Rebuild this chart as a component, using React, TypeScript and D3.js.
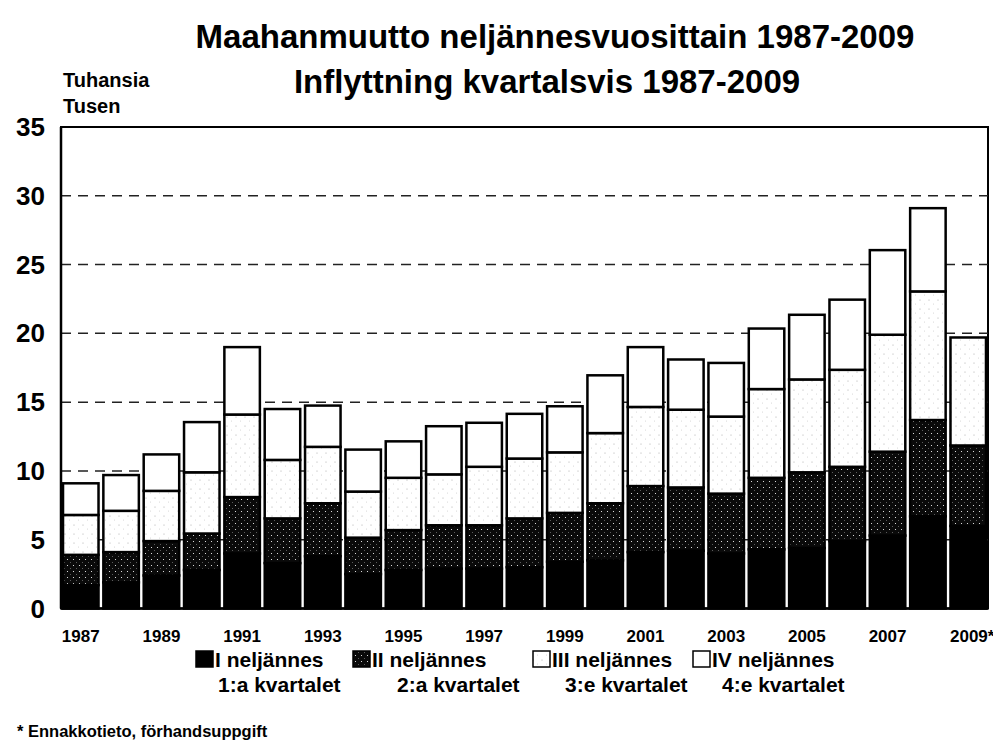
import React from 'react';
import * as d3 from 'd3';

const years = ['1987', '1988', '1989', '1990', '1991', '1992', '1993', '1994', '1995', '1996', '1997', '1998',
  '1999', '2000', '2001', '2002', '2003', '2004', '2005', '2006', '2007', '2008', '2009'];
const yearLabels = ['1987', '1989', '1991', '1993', '1995', '1997', '1999', '2001', '2003', '2005', '2007', '2009*'];

// thousands of immigrants per quarter
const q1 = [1.7, 1.9, 2.4, 2.8, 4.0, 3.3, 3.8, 2.5, 2.8, 2.9, 2.9, 3.0, 3.4, 3.5, 4.1, 4.2, 4.0, 4.3, 4.4, 4.9, 5.3, 6.7, 6.0];
const q2 = [2.2, 2.2, 2.5, 2.65, 4.1, 3.25, 3.85, 2.65, 2.9, 3.15, 3.15, 3.55, 3.55, 4.15, 4.8, 4.6, 4.35, 5.2, 5.5, 5.4, 6.1, 7.0, 5.85];
const q3 = [2.9, 3.0, 3.65, 4.45, 6.0, 4.25, 4.1, 3.35, 3.8, 3.7, 4.25, 4.35, 4.4, 5.1, 5.75, 5.65, 5.6, 6.45, 6.75, 7.05, 8.5, 9.35, 7.85];
const q4 = [2.3, 2.6, 2.65, 3.65, 4.9, 3.7, 3.0, 3.05, 2.65, 3.5, 3.2, 3.25, 3.35, 4.2, 4.35, 3.65, 3.9, 4.4, 4.7, 5.1, 6.15, 6.05, 0];

const yTicks = [0, 5, 10, 15, 20, 25, 30, 35];
const seriesKeys = ['q1', 'q2', 'q3', 'q4'];
const legendFi = ['I neljännes', 'II neljännes', 'III neljännes', 'IV neljännes'];
const legendSv = ['1:a kvartalet', '2:a kvartalet', '3:e kvartalet', '4:e kvartalet'];

const fills: Record<string, string> = { q1: '#000', q2: 'url(#patQ2)', q3: 'url(#patQ3)', q4: '#fff' };

const W = 993, H = 752;
const plot = { left: 61, right: 988, top: 127, bottom: 608.5 };
const font = '"Liberation Sans", Arial, sans-serif';

export default function App() {
  const rows = years.map((y, i) => ({ year: y, q1: q1[i], q2: q2[i], q3: q3[i], q4: q4[i] }));
  const stack = d3.stack<any>().keys(seriesKeys)(rows);

  const x = d3.scaleBand().domain(years).range([plot.left, plot.right]).paddingInner(0.12).paddingOuter(0.05);
  const y = d3.scaleLinear().domain([0, 35]).range([plot.bottom, plot.top]);

  const labelX = (lab: string) => (x(lab.replace('*', '')) as number) + x.bandwidth() / 2;

  const legendItems = [
    { key: 'q1', x: 196, tx: 218 },
    { key: 'q2', x: 353, tx: 397 },
    { key: 'q3', x: 533, tx: 565 },
    { key: 'q4', x: 693, tx: 722 },
  ];

  return (
    <div style={{ position: 'fixed', left: 0, top: 0 }}>
      <svg width={W} height={H} style={{ display: 'block', background: '#fff' }} fontFamily={font}>
        <defs>
          <pattern id="patQ2" width="6" height="6" patternUnits="userSpaceOnUse">
            <rect width="6" height="6" fill="#0a0a0a" />
            <circle cx="1.5" cy="1.5" r="0.55" fill="#fff" />
            <circle cx="4.5" cy="4.5" r="0.5" fill="#777" />
          </pattern>
          <pattern id="patQ3" width="9" height="9" patternUnits="userSpaceOnUse">
            <rect width="9" height="9" fill="#fff" />
            <circle cx="2" cy="3" r="0.6" fill="#aaa" />
            <circle cx="6.5" cy="7" r="0.5" fill="#ccc" />
          </pattern>
        </defs>

        {/* titles */}
        <text x={555} y={48} textAnchor="middle" fontSize={33} fontWeight="bold">Maahanmuutto neljännesvuosittain 1987-2009</text>
        <text x={547} y={93} textAnchor="middle" fontSize={33} fontWeight="bold">Inflyttning kvartalsvis 1987-2009</text>
        <text x={63} y={87} fontSize={20} fontWeight="bold">Tuhansia</text>
        <text x={63} y={113} fontSize={20} fontWeight="bold">Tusen</text>

        {/* plot frame */}
        <rect x={plot.left} y={plot.top} width={plot.right - plot.left} height={plot.bottom - plot.top}
          fill="none" stroke="#000" strokeWidth={2} />

        {/* gridlines */}
        {yTicks.filter(t => t > 0 && t < 35).map(t => (
          <line key={t} x1={plot.left} x2={plot.right} y1={y(t)} y2={y(t)}
            stroke="#222" strokeWidth={1.5} strokeDasharray="10,7" />
        ))}

        {/* y tick labels */}
        {yTicks.map(t => (
          <text key={t} x={45} y={y(t) + 9} textAnchor="end" fontSize={26} fontWeight="bold">{t}</text>
        ))}

        {/* bars */}
        {stack.map(s => (
          <g key={s.key}>
            {s.map((d, i) => (d[1] - d[0] > 0 ? (
              <rect key={i} x={x(years[i])} y={y(d[1])} width={x.bandwidth()} height={y(d[0]) - y(d[1])}
                fill={fills[s.key]} stroke="#000" strokeWidth={2.5} />
            ) : null))}
          </g>
        ))}

        {/* axes lines */}
        <line x1={plot.left} x2={plot.left} y1={plot.top} y2={plot.bottom} stroke="#000" strokeWidth={2.5} />
        <line x1={plot.left} x2={plot.right} y1={plot.bottom} y2={plot.bottom} stroke="#000" strokeWidth={2.5} />

        {/* x labels */}
        {yearLabels.map(l => (
          <text key={l} x={l.includes('*') ? labelX(l) + 4 : labelX(l)} y={642} textAnchor="middle"
            fontSize={17} fontWeight="bold">{l}</text>
        ))}

        {/* legend */}
        {legendItems.map((it, i) => (
          <g key={it.key}>
            <rect x={it.x} y={651} width={17} height={16} fill={fills[it.key]} stroke="#000" strokeWidth={1.5} />
            <text x={it.x + 19} y={667} fontSize={21} fontWeight="bold">{legendFi[i]}</text>
            <text x={it.tx} y={692} fontSize={21} fontWeight="bold">{legendSv[i]}</text>
          </g>
        ))}

        <text x={17} y={737} fontSize={16.5} fontWeight="bold">* Ennakkotieto, förhandsuppgift</text>
      </svg>
    </div>
  );
}
